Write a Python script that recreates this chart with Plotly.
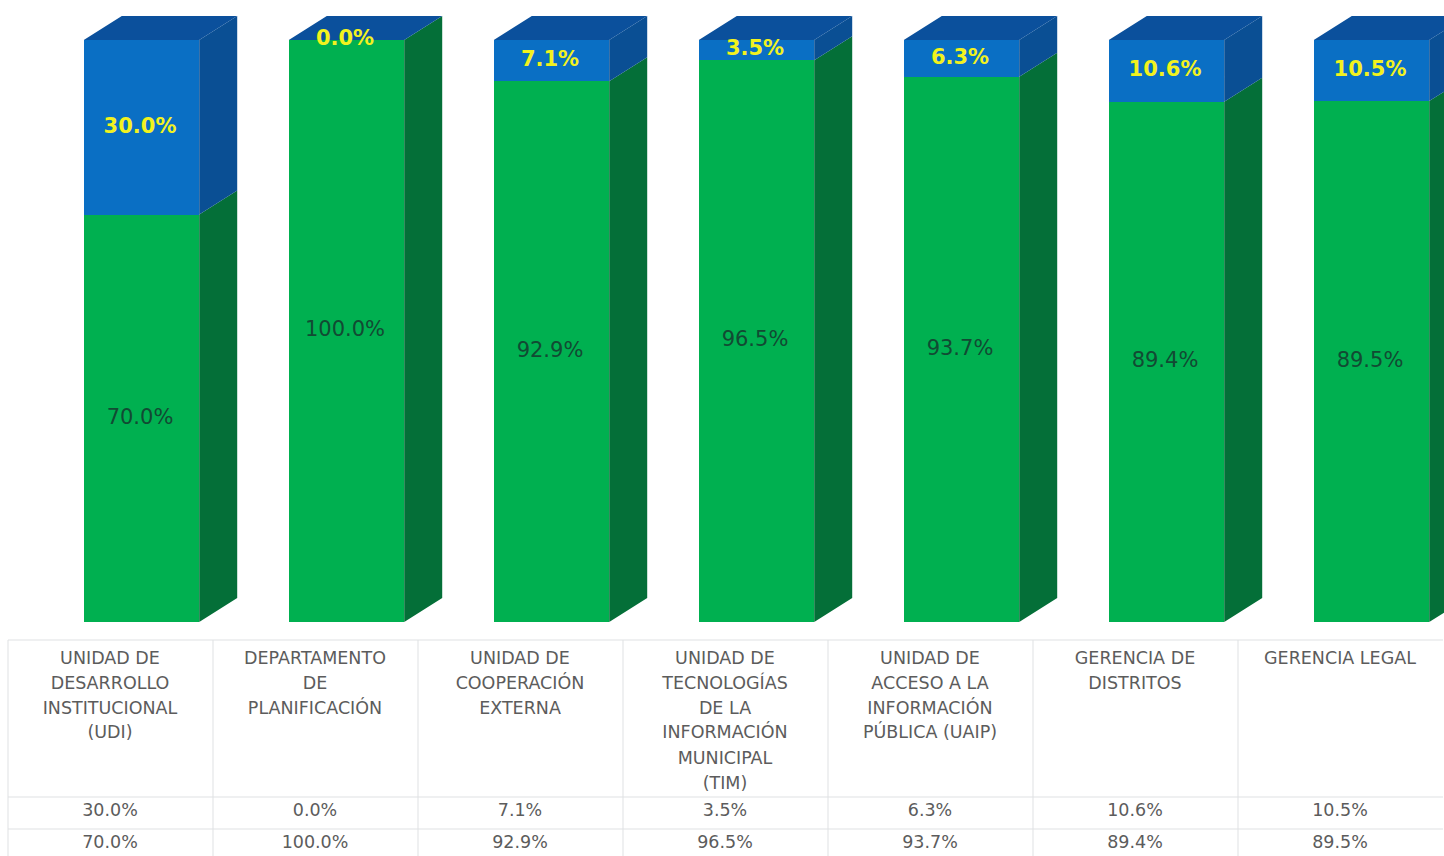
import plotly.graph_objects as go

categories = [
    ["UNIDAD DE", "DESARROLLO", "INSTITUCIONAL", "(UDI)"],
    ["DEPARTAMENTO", "DE", "PLANIFICACIÓN"],
    ["UNIDAD DE", "COOPERACIÓN", "EXTERNA"],
    ["UNIDAD DE", "TECNOLOGÍAS", "DE LA", "INFORMACIÓN", "MUNICIPAL", "(TIM)"],
    ["UNIDAD DE", "ACCESO A LA", "INFORMACIÓN", "PÚBLICA (UAIP)"],
    ["GERENCIA DE", "DISTRITOS"],
    ["GERENCIA LEGAL"],
]
blue_values = [30.0, 0.0, 7.1, 3.5, 6.3, 10.6, 10.5]
green_values = [70.0, 100.0, 92.9, 96.5, 93.7, 89.4, 89.5]

W, H = 1444, 856
X0, STEP = 141.5, 205.0      # pixel of first bar centre, pixels per category
Y0, PCT = 622.0, 5.82        # pixel of 0 %, pixels per percent
def px_x(p): return (p - X0) / STEP
def px_y(p): return (Y0 - p) / PCT

BW = 0.563
DX, DY = 38 / STEP, 24 / PCT
GREEN, BLUE = "#00B050", "#0A6FC4"
GREEN_SIDE, BLUE_SIDE, BLUE_TOP = "#046F38", "#0A4F94", "#0B509C"
YELLOW, DARK, GREY, LINE = "#F2F21E", "#124A33", "#5c5c5c", "#dfe1e3"

idx = list(range(len(categories)))
fig = go.Figure()
fig.add_bar(x=idx, y=green_values, width=BW, marker=dict(color=GREEN, line_width=0))
fig.add_bar(x=idx, y=blue_values, width=BW, marker=dict(color=BLUE, line_width=0))

def poly(color, xs, ys):
    fig.add_scatter(x=xs, y=ys, mode="lines", fill="toself", fillcolor=color,
                    line=dict(width=0, color=color), hoverinfo="skip")

gx, gy, bx, by, tx, ty = [], [], [], [], [], []
for i, g, b in zip(idx, green_values, blue_values):
    r, l = i + BW / 2, i - BW / 2
    gx += [r, r + DX, r + DX, r, None]
    gy += [0, DY, g + DY, g, None]
    if b > 0:
        bx += [r, r + DX, r + DX, r, None]
        by += [g, g + DY, g + b + DY, g + b, None]
    tx += [l, l + DX, r + DX, r, None]
    ty += [g + b, g + b + DY, g + b + DY, g + b, None]
poly(GREEN_SIDE, gx, gy)
poly(BLUE_SIDE, bx, by)
poly(BLUE_TOP, tx, ty)

# bar labels
lab_x = [i + px_x(140) for i in idx]
fig.add_scatter(x=lab_x, y=[g / 2 for g in green_values], mode="text",
                text=[f"{g:.1f}%" for g in green_values],
                textfont=dict(family="DejaVu Sans", size=21, color=DARK), hoverinfo="skip")
fig.add_scatter(x=lab_x, y=[g + b / 2 for g, b in zip(green_values, blue_values)], mode="text",
                text=[f"{b:.1f}%" for b in blue_values],
                textfont=dict(family="DejaVu Sans", size=21, color=YELLOW, weight="bold"), hoverinfo="skip")

# table grid
col_x = [i + px_x(110) for i in idx]
vx, vy = [], []
for i in idx:
    x = i + px_x(8)
    vx += [x, x, None]
    vy += [px_y(640), px_y(856), None]
x = len(idx) + px_x(8)
hx = [px_x(8), len(idx) + px_x(8), None, px_x(8), len(idx) + px_x(8), None, px_x(8), len(idx) + px_x(8)]
hy = [px_y(640), px_y(640), None, px_y(797), px_y(797), None, px_y(829), px_y(829)]
fig.add_scatter(x=vx + [None] + hx, y=vy + [None] + hy, mode="lines",
                line=dict(width=1, color=LINE), hoverinfo="skip")

# table text
row_px = [660, 685, 710, 734, 760, 785]
for r, py in enumerate(row_px):
    xs, ts = [], []
    for i, lines in zip(idx, categories):
        if r < len(lines):
            xs.append(col_x[i]); ts.append(lines[r])
    fig.add_scatter(x=xs, y=[px_y(py)] * len(xs), mode="text", text=ts,
                    textfont=dict(family="DejaVu Sans", size=17.5, color=GREY), hoverinfo="skip")
fig.add_scatter(x=col_x, y=[px_y(812)] * len(idx), mode="text", text=[f"{b:.1f}%" for b in blue_values],
                textfont=dict(family="DejaVu Sans", size=17.5, color=GREY), hoverinfo="skip")
fig.add_scatter(x=col_x, y=[px_y(844)] * len(idx), mode="text", text=[f"{g:.1f}%" for g in green_values],
                textfont=dict(family="DejaVu Sans", size=17.5, color=GREY), hoverinfo="skip")

fig.update_layout(
    width=W, height=H, margin=dict(l=0, r=0, t=0, b=0), barmode="stack",
    showlegend=False, paper_bgcolor="white", plot_bgcolor="white", hovermode=False,
    xaxis=dict(range=[px_x(0), px_x(W)], visible=False, fixedrange=True),
    yaxis=dict(range=[px_y(H), px_y(0)], visible=False, fixedrange=True),
)
fig.write_html("out.html", config={"displayModeBar": False},
               post_script="document.body.style.margin='0';document.documentElement.style.overflow='hidden';")
